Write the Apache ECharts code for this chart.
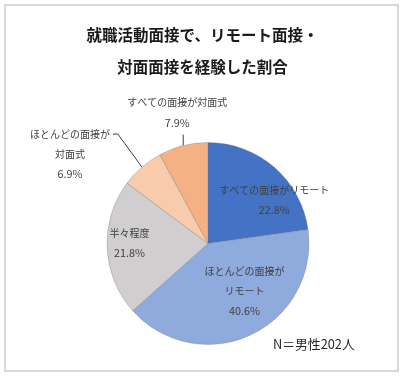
<!DOCTYPE html>
<html>
<head>
<meta charset="utf-8">
<script src="https://cdn.jsdelivr.net/npm/echarts@6/dist/echarts.min.js"></script>
<style>
html,body{margin:0;padding:0;background:#fff;}
#c{width:405px;height:377px;}
</style>
</head>
<body>
<div id="c"></div>
<script>
const titleText = '就職活動面接で、リモート面接・\n対面面接を経験した割合';
const categories = ['すべての面接がリモート', 'ほとんどの面接がリモート', '半々程度', 'ほとんどの面接が対面式', 'すべての面接が対面式'];
const labelNameLines = [['すべての面接がリモート'], ['ほとんどの面接が', 'リモート'], ['半々程度'], ['ほとんどの面接が', '対面式'], ['すべての面接が対面式']];
const values = [22.8, 40.6, 21.8, 6.9, 7.9];
const colors = ['#4472C4', '#8FAADC', '#D0CECE', '#F8CBAD', '#F4B183'];
const noteText = 'N＝男性202人';

const FONT = '"Noto Sans CJK JP", "Noto Sans", sans-serif';
const insideSlices = [0, 1, 2];

const chart = echarts.init(document.getElementById('c'), null, { renderer: 'canvas' });

const data = categories.map(function (name, i) {
  const inside = insideSlices.indexOf(i) >= 0;
  return {
    name: name,
    value: values[i],
    itemStyle: { color: colors[i] },
    label: { position: inside ? 'inside' : 'outside' },
    labelLine: { show: !inside }
  };
});

chart.setOption({
  backgroundColor: '#ffffff',
  animation: false,
  title: {
    text: titleText,
    left: 'center',
    top: 14,
    textStyle: { fontFamily: FONT, fontSize: 15.5, fontWeight: 'bold', color: '#1a1a1a', lineHeight: 32 }
  },
  graphic: [
    { type: 'rect', shape: { x: 5, y: 5, width: 393, height: 366 }, style: { fill: 'none', stroke: '#d9d9d9', lineWidth: 2 }, silent: true },
    { type: 'text', left: 273, top: 338, style: { text: noteText, fontFamily: FONT, fontSize: 12.8, fill: '#262626' }, silent: true }
  ],
  series: [{
    type: 'pie',
    center: [208, 243.5],
    radius: [0, 101],
    startAngle: 90,
    clockwise: true,
    avoidLabelOverlap: false,
    emphasis: { disabled: true },
    itemStyle: { borderColor: 'rgba(110,110,110,0.45)', borderWidth: 0.7 },
    label: {
      show: true,
      color: '#404040',
      fontFamily: FONT,
      formatter: function (p) {
        const lines = labelNameLines[p.dataIndex].map(function (s) { return '{n|' + s + '}'; });
        return lines.join('\n') + '\n{v|' + p.value.toFixed(1) + '%}';
      },
      rich: {
        n: { fontFamily: FONT, fontSize: 10, lineHeight: 20, color: '#404040', align: 'center' },
        v: { fontFamily: FONT, fontSize: 10.8, lineHeight: 20, color: '#404040', align: 'center' }
      }
    },
    labelLine: { lineStyle: { color: '#404040', width: 1 }, length: 10, length2: 5, smooth: false },
    labelLayout: function (p) {
      const i = p.dataIndex;
      const r = p.labelRect;
      const cx = r.x + r.width / 2, cy = r.y + r.height / 2;
      if (i === 0) return { x: cx + 31, y: cy - 3, align: 'center', verticalAlign: 'middle' };
      if (i === 1) return { x: cx + 14, y: cy - 1, align: 'center', verticalAlign: 'middle' };
      if (i === 2) return { x: cx - 25, y: cy - 3, align: 'center', verticalAlign: 'middle' };
      const s = p.labelLinePoints && p.labelLinePoints[0];
      if (!s) return {};
      if (i === 3) {
        return {
          x: s[0] - 72, y: s[1] - 13, align: 'center', verticalAlign: 'middle',
          labelLinePoints: [[s[0], s[1]], [s[0] - 24, s[1] - 33], [s[0] - 29, s[1] - 33]]
        };
      }
      return {
        x: s[0] - 6, y: s[1] - 33, align: 'center', verticalAlign: 'middle',
        labelLinePoints: [[s[0], s[1]], [s[0], s[1] - 11], [s[0], s[1] - 11]]
      };
    },
    data: data
  }]
});
</script>
</body>
</html>
